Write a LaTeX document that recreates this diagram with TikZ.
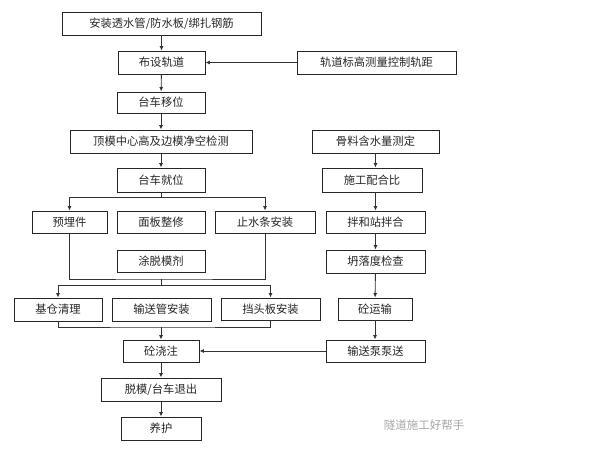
\documentclass[tikz,border=0pt]{standalone}
\usepackage{fontspec}
\newfontfamily\cjk{Noto Sans CJK SC}
\usepackage{tikz}
\usetikzlibrary{arrows.meta}

\tikzset{
	box/.style={draw=black!85, line width=0.9pt, inner sep=0pt, minimum height=23pt, text=black!85, font=\cjk\fontsize{11.3}{13}\selectfont},
	>={Latex[length=4.5pt,width=4pt]},
	link/.style={draw=black!80, line width=0.9pt}
}

\begin{document}
\begin{tikzpicture}[x=1pt, y=-1pt]
	\useasboundingbox (0,0) rectangle (600,450);

	\node[box, minimum width=199pt] (install) at (161.5,23.5) {安装透水管/防水板/绑扎钢筋};
	\node[box, minimum width=87pt] (track) at (161.5,62.5) {布设轨道};
	\node[box, minimum width=159pt] (trackctl) at (376.5,62.5) {轨道标高测量控制轨距};
	\node[box, minimum width=88pt, minimum height=21pt] (move) at (161,102.5) {台车移位};
	\node[box, minimum width=182pt] (check) at (161,141.5) {顶模中心高及边模净空检测};
	\node[box, minimum width=127pt] (water) at (375.5,141.5) {骨料含水量测定};
	\node[box, minimum width=88pt, minimum height=24pt] (place) at (161,180) {台车就位};
	\node[box, minimum width=100pt, minimum height=24pt] (mix) at (372,180) {施工配合比};
	\node[box, minimum width=75pt, minimum height=22pt] (embed) at (69.5,222) {预埋件};
	\node[box, minimum width=88pt, minimum height=22pt] (panel) at (161,222) {面板整修};
	\node[box, minimum width=100pt, minimum height=22pt] (seal) at (265,222) {止水条安装};
	\node[box, minimum width=99pt, minimum height=22pt] (plant) at (375.5,222) {拌和站拌合};
	\node[box, minimum width=88pt, minimum height=22pt] (agent) at (161,261) {涂脱模剂};
	\node[box, minimum width=99pt] (slump) at (375.5,261.5) {坍落度检查};
	\node[box, minimum width=88pt] (clean) at (58,309.5) {基仓清理};
	\node[box, minimum width=99pt] (pipe) at (161.5,309.5) {输送管安装};
	\node[box, minimum width=99pt, minimum height=22pt] (board) at (270.5,309) {挡头板安装};
	\node[box, minimum width=74pt, minimum height=22pt] (haul) at (375,309) {砼运输};
	\node[box, minimum width=76pt, minimum height=22pt] (pour) at (161,351) {砼浇注};
	\node[box, minimum width=99pt, minimum height=22pt] (pump) at (375.5,351) {输送泵泵送};
	\node[box, minimum width=120pt] (strip) at (161,389.5) {脱模/台车退出};
	\node[box, minimum width=80pt] (cure) at (161,428.5) {养护};

	\node[text=black!35, font=\cjk\fontsize{11.5}{13}\selectfont] (mark) at (424,425) {隧道施工好帮手};

	% junctions
	\coordinate (split1) at (161,197);
	\coordinate (join1) at (161,279);
	\coordinate (split2) at (161,285);
	\coordinate (join2) at (161,327);

	\path[link, ->] (install) edge (track);
	\path[link, ->] (trackctl) edge (track);
	\path[link, ->] (track) edge (move);
	\path[link, ->] (move) edge (check);
	\path[link, ->] (check) edge (place);

	\draw[link, ->] (water) -- (water |- mix.north);
	\draw[link, ->] (mix.south -| plant) -- (plant);
	\path[link, ->] (plant) edge (slump);
	\path[link, ->] (slump) edge (haul);
	\draw[link, ->] (haul) -- (haul |- pump.north);
	\path[link, ->] (pump) edge (pour);

	\draw[link] (place) -- (split1);
	\draw[link, ->] (split1) -| (embed);
	\draw[link, ->] (split1) -| (seal);
	\draw[link] (embed) |- (join1) -| (seal);
	\draw[link] (join1) -- (split2);
	\draw[link, ->] (split2) -| (clean);
	\draw[link, ->] (split2) -| (board);
	\draw[link] (clean) |- (join2) -| (board);
	\draw[link, ->] (join2) -- (pour);

	\path[link, ->] (pour) edge (strip);
	\path[link, ->] (strip) edge (cure);
\end{tikzpicture}
\end{document}
